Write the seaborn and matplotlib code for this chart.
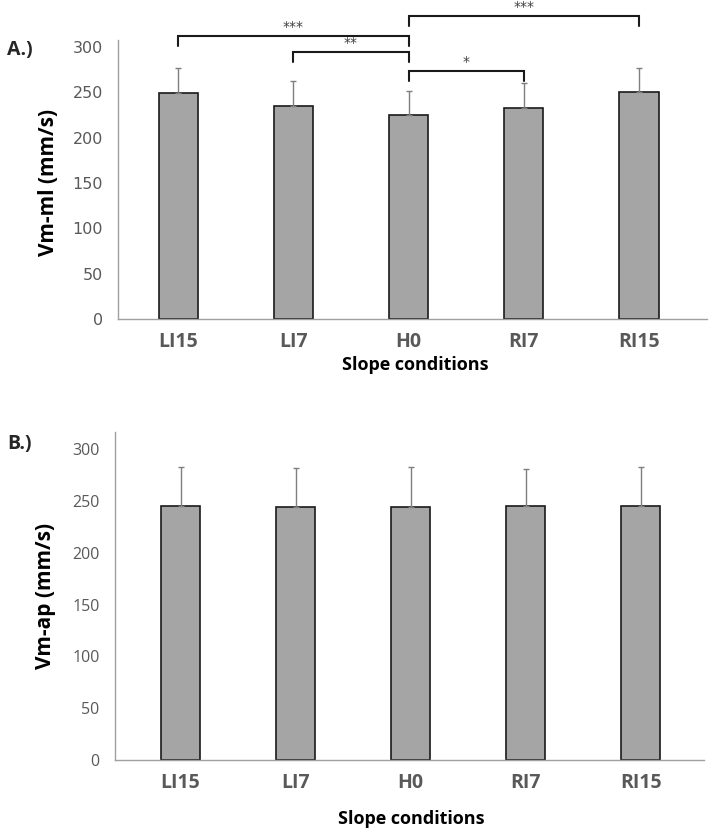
import numpy as np
import matplotlib.pyplot as plt
import seaborn as sns

# data
conditions = ['LI15', 'LI7', 'H0', 'RI7', 'RI15']
vm_ml = [249, 235, 225, 233, 250]
vm_ml_sd = [28, 27, 26, 27, 27]
vm_ap = [245, 244, 244, 245, 245]
vm_ap_sd = [38, 38, 39, 36, 38]

# significance brackets for panel A: (left, right, height, label)
sig_left = [0, 1, 2, 2]
sig_right = [2, 2, 3, 4]
sig_height = [312, 294, 273, 334]
sig_label = ['***', '**', '*', '***']

sns.set_style('white')
plt.rcParams['font.family'] = ['Open Sans', 'DejaVu Sans']

bar_color = '#a5a5a5'
tick_grey = '#595959'

fig = plt.figure(figsize=(7.15, 8.36), dpi=100)
axA = fig.add_axes([118.3 / 715, 1 - 319.3 / 836, 588.7 / 715, 279.3 / 836])
axB = fig.add_axes([115 / 715, 1 - 760 / 836, 589 / 715, 328.3 / 836])


def draw_panel(ax, vals, sd, ylab, ylim, xlim, tickfont, ticksize, ylab_xy, xlab_xy):
    sns.barplot(x=conditions, y=vals, ax=ax, color=bar_color, saturation=1,
                edgecolor='#1a1a1a', linewidth=1.2, width=0.34, errorbar=None)
    ax.errorbar(range(len(vals)), vals, yerr=[np.zeros(len(vals)), sd],
                fmt='none', ecolor='#7f7f7f', elinewidth=1, capsize=2.5,
                capthick=1, zorder=1)
    ax.set_xlim(*xlim)
    ax.set_ylim(0, ylim)
    ax.set_yticks(range(0, 301, 50))
    sns.despine(ax=ax)
    for s in ['left', 'bottom']:
        ax.spines[s].set_color('#a0a0a0')
        ax.spines[s].set_linewidth(1)
    ax.tick_params(length=0)
    ax.tick_params(axis='y', pad=11, labelcolor=tick_grey)
    for t in ax.get_yticklabels():
        t.set_fontfamily(tickfont)
        t.set_fontsize(ticksize)
    ax.tick_params(axis='x', pad=9, labelcolor=tick_grey)
    for t in ax.get_xticklabels():
        t.set_fontweight('bold')
        t.set_fontsize(14)
    ax.set_ylabel(ylab, fontsize=15, fontweight='bold', color='black', va='center')
    ax.yaxis.set_label_coords(*ylab_xy)
    ax.set_xlabel('Slope conditions', fontsize=13, fontweight='bold',
                  color='black', va='center')
    ax.xaxis.set_label_coords(*xlab_xy)


draw_panel(axA, vm_ml, vm_ml_sd, 'Vm-ml (mm/s)', 307.4, (-0.52, 4.59),
           'Liberation Sans Narrow', 11.5, (-0.119, 0.49), (0.504, -0.162))
draw_panel(axB, vm_ap, vm_ap_sd, 'Vm-ap (mm/s)', 317, (-0.57, 4.55),
           'Open Sans', 11.5, (-0.118, 0.5), (0.503, -0.181))

# significance brackets
drop = 11
for l, r, h, lab in zip(sig_left, sig_right, sig_height, sig_label):
    axA.plot([l, l, r, r], [h - drop, h, h, h - drop], color='#1a1a1a',
             lw=1.5, clip_on=False, solid_joinstyle='miter')
    axA.text((l + r) / 2, h + 2, lab, ha='center', va='bottom',
             fontsize=10, color='#404040', family='DejaVu Sans')

fig.text(7 / 715, 1 - 50.5 / 836, 'A.)', fontsize=14, fontweight='bold',
         ha='left', va='center')
fig.text(7 / 715, 1 - 444 / 836, 'B.)', fontsize=14, fontweight='bold',
         ha='left', va='center')

fig.savefig('out.png', dpi=100)
